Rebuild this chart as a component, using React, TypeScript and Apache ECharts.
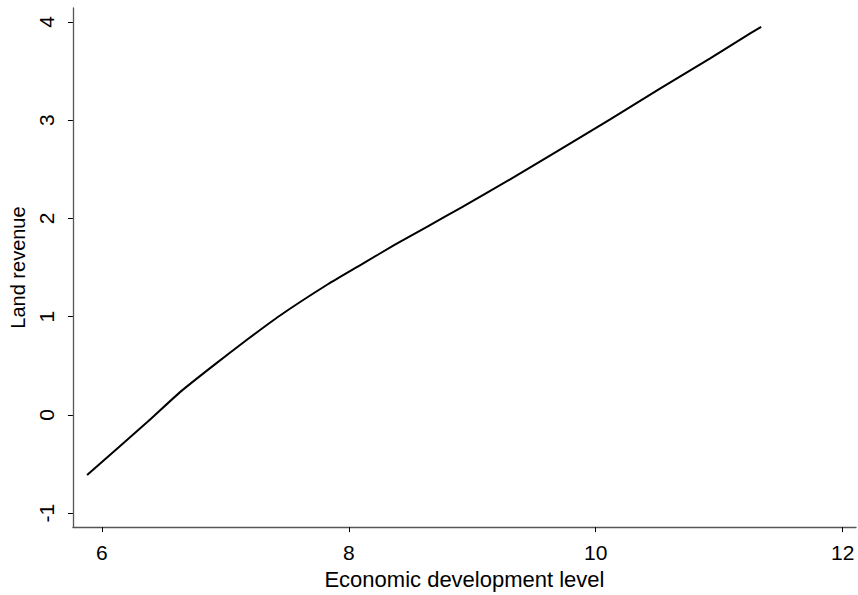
import React, { useEffect, useRef } from "react";
import * as echarts from "echarts";

const xValues = [5.88, 6.37, 6.64, 6.91, 7.18, 7.44, 7.83, 8.1, 8.37, 8.64, 8.91, 9.31, 9.71, 10.12, 10.52, 10.93, 11.17, 11.34];
const yValues = [-0.61, -0.07, 0.24, 0.51, 0.77, 1.01, 1.33, 1.53, 1.73, 1.92, 2.11, 2.4, 2.7, 3.01, 3.32, 3.63, 3.82, 3.95];
const xTicks = [6, 8, 10, 12];
const yTicks = [-1, 0, 1, 2, 3, 4];
const xTitle = "Economic development level";
const yTitle = "Land revenue";

export default function App() {
  const ref = useRef<HTMLDivElement>(null);
  useEffect(() => {
    if (!ref.current) return;
    const chart = echarts.init(ref.current, null, { renderer: "svg" });
    const font = "'Liberation Sans', Arial, sans-serif";
    chart.setOption({
      animation: false,
      backgroundColor: "#ffffff",
      grid: { left: 72, right: 2, top: 8, bottom: 62 },
      xAxis: {
        type: "value",
        min: 5.765,
        max: 12.108,
        name: xTitle,
        nameLocation: "middle",
        nameGap: 35,
        nameTextStyle: { fontFamily: font, fontSize: 22, color: "#000" },
        axisLine: { show: true, onZero: false, lineStyle: { color: "#555", width: 1.3 } },
        axisTick: { show: true, length: 5, customValues: xTicks, lineStyle: { color: "#000", width: 1 } },
        axisLabel: { customValues: xTicks, margin: 15, fontFamily: font, fontSize: 21, color: "#000" },
        splitLine: { show: false },
      },
      yAxis: {
        type: "value",
        min: -1.141,
        max: 4.141,
        name: yTitle,
        nameLocation: "middle",
        nameGap: 40,
        nameRotate: 90,
        nameTextStyle: { fontFamily: font, fontSize: 20, color: "#000" },
        axisLine: { show: true, onZero: false, lineStyle: { color: "#555", width: 1.3 } },
        axisTick: { show: true, length: 5, customValues: yTicks, lineStyle: { color: "#000", width: 1 } },
        axisLabel: { customValues: yTicks, rotate: 90, margin: 16, fontFamily: font, fontSize: 21, color: "#000" },
        splitLine: { show: false },
      },
      series: [
        {
          type: "line",
          data: xValues.map((x, i) => [x, yValues[i]]),
          showSymbol: false,
          smooth: 0.2,
          lineStyle: { color: "#000", width: 2 },
        },
      ],
    });
    return () => chart.dispose();
  }, []);
  return <div ref={ref} style={{ position: "fixed", left: 0, top: 0, width: 858, height: 595 }} />;
}
